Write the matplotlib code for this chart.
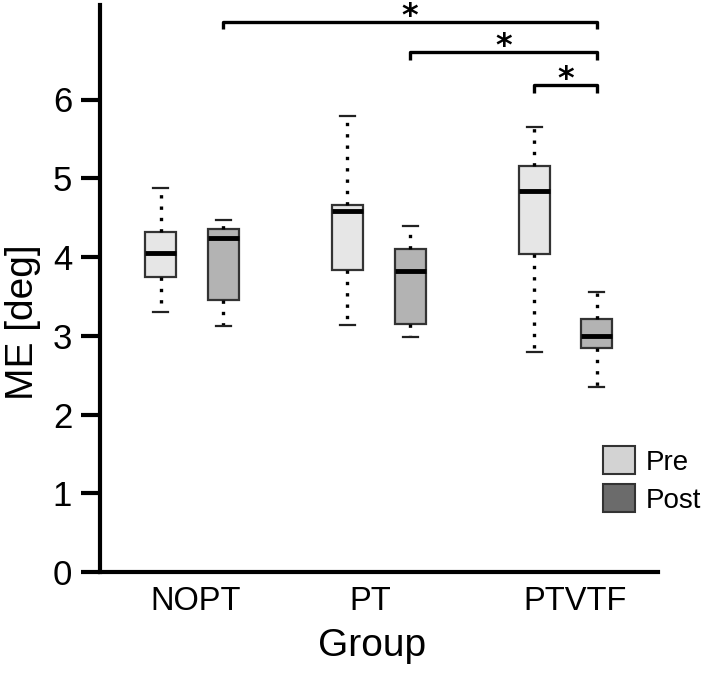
import matplotlib
matplotlib.use("Agg")
import matplotlib.pyplot as plt
from matplotlib.patches import Patch

plt.rcParams['font.family'] = ['Liberation Sans', 'DejaVu Sans']

groups = ["NOPT", "PT", "PTVTF"]
# Pre-training box statistics
pre_whislo = [3.30, 3.14, 2.80]
pre_q1     = [3.75, 3.84, 4.04]
pre_med    = [4.05, 4.59, 4.84]
pre_q3     = [4.32, 4.66, 5.15]
pre_whishi = [4.87, 5.79, 5.65]
# Post-training box statistics
post_whislo = [3.12, 2.98, 2.35]
post_q1     = [3.46, 3.15, 2.84]
post_med    = [4.24, 3.82, 3.00]
post_q3     = [4.36, 4.10, 3.21]
post_whishi = [4.47, 4.40, 3.56]
# significance brackets: (from group, from phase, to group, to phase, height)
sig_pairs = [(0, "post", 2, "post", 6.99),
             (1, "post", 2, "post", 6.60),
             (2, "pre", 2, "post", 6.18)]
sig_label = "*"
legend_labels = ["Pre", "Post"]
yticks = [0, 1, 2, 3, 4, 5, 6]

W, H = 703, 676
fig = plt.figure(figsize=(W/100, H/100), dpi=100)
ax_left, ax_right, ax_top, ax_bottom = 100, 658, 5, 572
ax = fig.add_axes([ax_left/W, 1 - ax_bottom/H, (ax_right-ax_left)/W, (ax_bottom-ax_top)/H])

centers = [1.0, 2.0, 3.0]
off = 0.168
bw = 0.166

def stats(lo, q1, med, q3, hi):
    return [dict(whislo=a, q1=b, med=c, q3=d, whishi=e, fliers=[])
            for a, b, c, d, e in zip(lo, q1, med, q3, hi)]

common = dict(widths=bw, patch_artist=True, showfliers=False,
              medianprops=dict(color='black', linewidth=3.5, solid_capstyle='butt'),
              whiskerprops=dict(color='black', linewidth=2.4, linestyle=(0, (1.0, 2.4)), dash_capstyle='butt'),
              capprops=dict(color='#222222', linewidth=1.6),
              capwidths=0.08)
bp1 = ax.bxp(stats(pre_whislo, pre_q1, pre_med, pre_q3, pre_whishi),
             positions=[c - off for c in centers],
             boxprops=dict(facecolor='#e6e6e6', edgecolor='#333333', linewidth=1.6), **common)
bp2 = ax.bxp(stats(post_whislo, post_q1, post_med, post_q3, post_whishi),
             positions=[c + off for c in centers],
             boxprops=dict(facecolor='#b3b3b3', edgecolor='#333333', linewidth=1.6), **common)

# significance brackets
tick_h = 0.1
for g1, p1, g2, p2, yv in sig_pairs:
    x1 = centers[g1] + (off if p1 == "post" else -off)
    x2 = centers[g2] + (off if p2 == "post" else -off)
    ax.plot([x1, x1, x2, x2], [yv - tick_h, yv, yv, yv - tick_h], color='black',
            linewidth=2.4, solid_joinstyle='round', solid_capstyle='butt', clip_on=False)
    ax.text((x1 + x2) / 2, yv + 0.07, sig_label, ha='center', va='center',
            fontsize=23, fontweight='bold', family='DejaVu Sans', clip_on=False)

ax.set_xlim(0.507, 3.496)
ax.set_ylim(0, 7.2)
ax.set_yticks(yticks)
ax.set_yticklabels([str(t) for t in yticks])
label_pos = [1.021, 1.954, 3.051]
ax.set_xticks(label_pos)
ax.set_xticklabels(groups)
ax.tick_params(axis='y', length=14, width=3, labelsize=25, pad=6)
ax.tick_params(axis='x', length=0, labelsize=23.5, pad=10)
for s in ['top', 'right']:
    ax.spines[s].set_visible(False)
ax.spines['left'].set_linewidth(3)
ax.spines['bottom'].set_linewidth(3)
ax.spines['left'].set_bounds(0, 7.2)

ax.set_ylabel("ME [deg]", fontsize=28)
ax.yaxis.set_label_coords(-0.105, 0.44)
ax.set_xlabel("Group", fontsize=28)
ax.xaxis.set_label_coords(0.487, -0.098)

handles = [Patch(facecolor='#d3d3d3', edgecolor='#333333', linewidth=1.5),
           Patch(facecolor='#6b6b6b', edgecolor='#333333', linewidth=1.5)]
leg = ax.legend(handles, legend_labels, loc='upper left',
                frameon=False, fontsize=20, handlelength=1.15, handleheight=1.2,
                handletextpad=0.4, labelspacing=0.3, borderpad=0, borderaxespad=0)
leg.set_bbox_to_anchor((603/W, 1 - 446/H), transform=fig.transFigure)

fig.savefig("out.png", dpi=100)
